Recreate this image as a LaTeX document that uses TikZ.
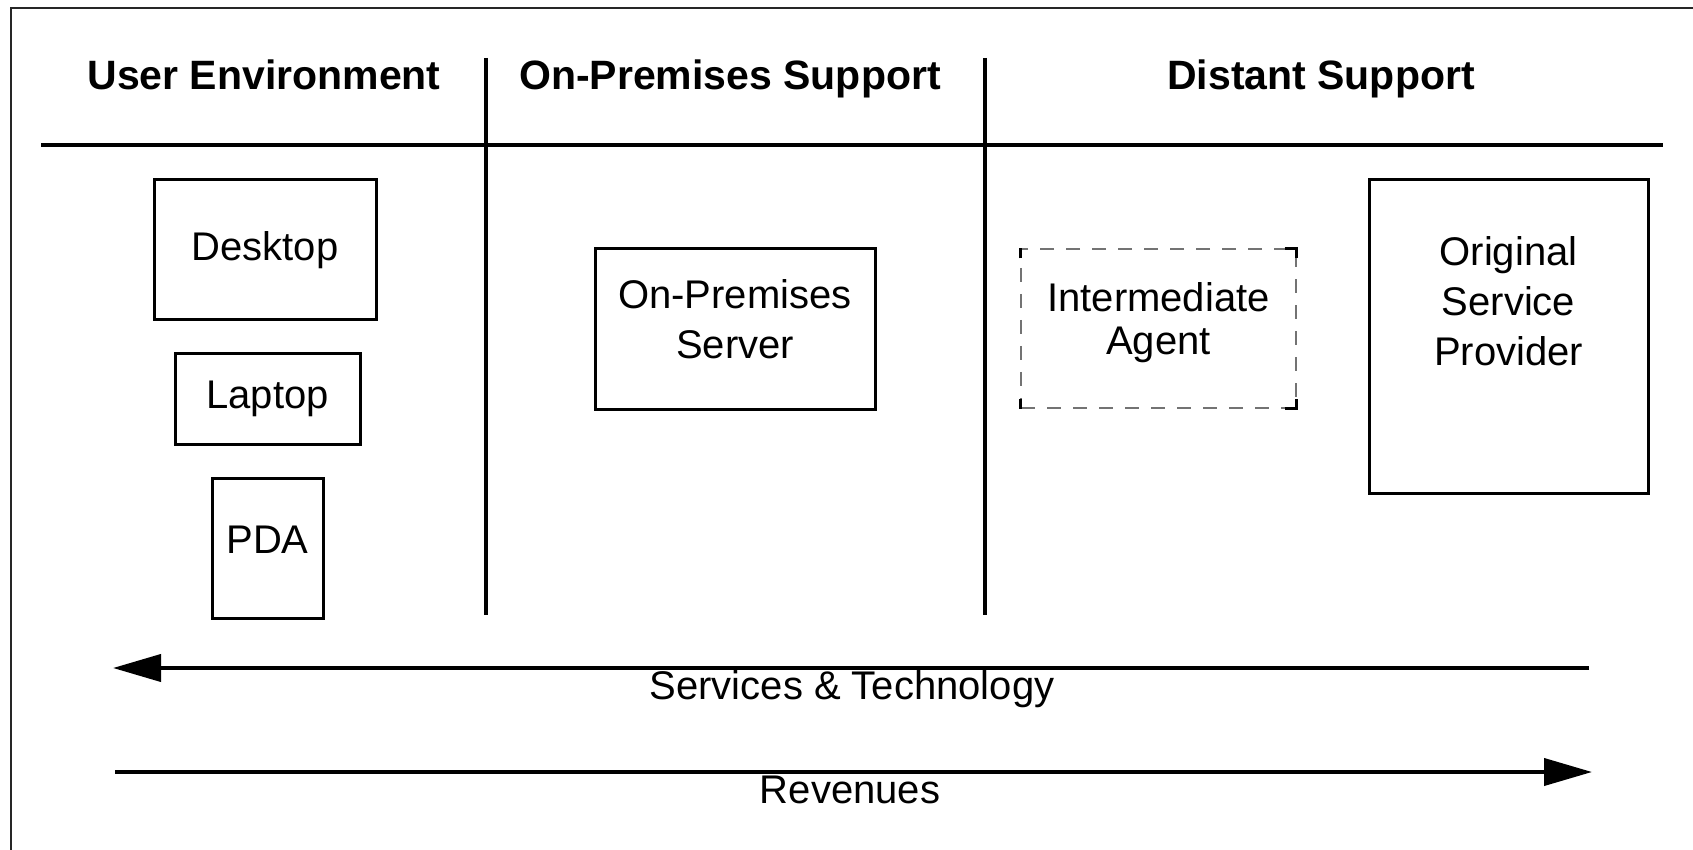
\documentclass[tikz,border=0pt]{standalone}
\usepackage{fontspec}
\setmainfont{Liberation Sans}
\usetikzlibrary{arrows.meta}

\begin{document}
\begin{tikzpicture}[x=0.5pt,y=-0.5pt,
    head/.style={font=\bfseries\fontsize{20.5}{24}\selectfont,anchor=base},
    box/.style={draw=black,line width=1.5pt,inner sep=0pt,align=center,font=\fontsize{20}{25}\selectfont},
    agent/.style={draw=black!55,line width=0.7pt,dash pattern=on 7pt off 6pt,inner sep=0pt,align=center,font=\fontsize{20}{21.5}\selectfont},
    flow/.style={line width=2pt,-{Triangle[length=24pt,width=13.5pt]}},
    lbl/.style={font=\fontsize{20}{24}\selectfont,anchor=base}]
    \useasboundingbox (0,0) rectangle (1693,850);
    % basics
    \draw[line width=1pt,black!85] (1693,8) -- (11,8) -- (11,850);
    \draw[line width=2pt] (41,145) -- (1663,145);
    \draw[line width=2pt] (486,58) -- (486,615);
    \draw[line width=2pt] (985,58) -- (985,615);

    % column heads
    \node[head] (user) at (264,90) {User Environment};
    \node[head] (onprem) at (730,90) {On-Premises Support};
    \node[head] (distant) at (1321,90) {Distant Support};

    % user devices
    \node[box,minimum width=111pt,minimum height=70pt] (desktop) at (265,250) {Desktop};
    \node[box,minimum width=92.5pt,minimum height=45pt] (laptop) at (267.5,399) {Laptop};
    \node[box,minimum width=55.5pt,minimum height=70pt,text depth=8pt] (pda) at (267.5,548) {PDA};

    % servers
    \node[box,minimum width=140pt,minimum height=80pt,text depth=10pt] (server) at (735,329) {On-Premises\\Server};
    \node[agent,minimum width=137.5pt,minimum height=79.5pt,text depth=10pt] (agent) at (1158.5,328.5) {Intermediate\\Agent};
    \draw[line width=1.3pt] ([yshift=-5pt]agent.north west) -- (agent.north west);
    \draw[line width=1.3pt] ([yshift=5pt]agent.south west) -- (agent.south west);
    \draw[line width=1.3pt] ([xshift=-6pt]agent.north east) -- (agent.north east) -- ([yshift=-5pt]agent.north east);
    \draw[line width=1.3pt] ([xshift=-6pt]agent.south east) -- (agent.south east) -- ([yshift=5pt]agent.south east);
    \node[box,minimum width=139.5pt,minimum height=156.5pt,text depth=35pt] (provider) at (1508.5,336.5) {Original\\Service\\Provider};

    % flows
    \coordinate (st-r) at (1589,668);
    \coordinate (st-l) at (113,668);
    \coordinate (rv-l) at (115,772);
    \coordinate (rv-r) at (1592,772);
    \draw[flow] (st-r) -- (st-l);
    \draw[flow] (rv-l) -- (rv-r);
    \node[lbl] (services) at (852,699) {Services \& Technology};
    \node[lbl] (revenues) at (850,803) {Revenues};
\end{tikzpicture}
\end{document}
